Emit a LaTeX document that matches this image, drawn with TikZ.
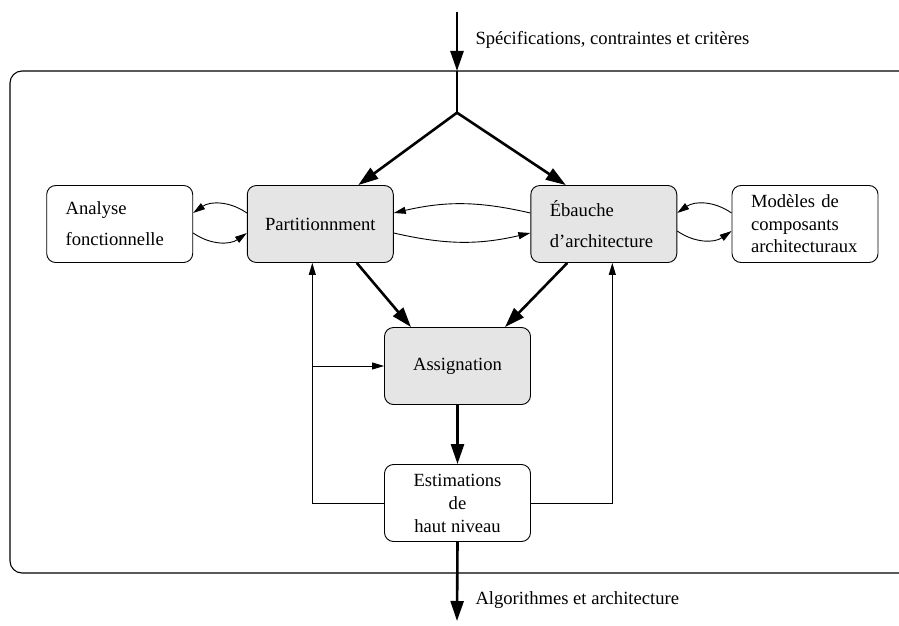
\documentclass[tikz,border=0pt]{standalone}
\usepackage{fontspec}
\setmainfont{Liberation Serif}
\usetikzlibrary{arrows.meta,calc}
\begin{document}
\begin{tikzpicture}[x=1pt,y=-1pt,
  txt/.style={font=\fontsize{18.6}{21}\selectfont},
  box/.style={draw, line width=0.9pt, rounded corners=9pt, minimum width=146pt,
    minimum height=77pt, inner sep=0pt, txt},
  gbox/.style={box, fill=black!10},
  lbox/.style={box, align=left, text width=108pt, inner xsep=19pt},
  big/.style={line width=2.6pt, -{Triangle[length=20pt,width=13pt]}},
  bigline/.style={line width=2.6pt},
  small/.style={line width=0.9pt, -{Triangle[length=12pt,width=7pt]}},
  lbl/.style={anchor=west, txt}]
\useasboundingbox (0,0) rectangle (899,626);

% enclosing frame, open on the right
\draw[line width=1.1pt, rounded corners=12pt] (899,71) -- (10,71) -- (10,573) -- (899,573);

% boxes
\node[lbox] (ana) at (119.7,224) {Analyse\\[10pt]fonctionnelle};
\node[gbox] (part) at (320.3,224) {Partitionnment};
\node[gbox, lbox] (eb) at (603.8,224) {Ébauche\\[10pt]d'architecture};
\node[lbox, font=\fontsize{18.6}{22.5}\selectfont] (mod) at (805,224) {Modèles de\\composants\\architecturaux};
\node[gbox] (ass) at (457.5,366) {Assignation};
\node[box, align=center, font=\fontsize{18.6}{23}\selectfont] (est) at (457.5,503) {Estimations\\de\hspace{0.6em}\\haut niveau};

% input and output
\coordinate (in) at (457,12);
\coordinate (entry) at (457,71);
\coordinate (split) at (457,112.7);
\coordinate (out) at (457,621);
\draw[big] (in) -- (entry);
\draw[line width=2.6pt] (entry) -- (split);
\node[lbl] (spec) at (472,40) {Spécifications, contraintes et critères};
\node[lbl] (algo) at (472,600) {Algorithmes et architecture};
\draw[big] (est.south) -- (out);

% main flow
\draw[big] (split) -- ($(part.north)+(38,0)$);
\draw[big] (split) -- ($(eb.north)+(-38,0)$);
\draw[big] ($(part.south)+(36.5,0)$) -- ($(ass.north)+(-46.5,0)$);
\draw[big] ($(eb.south)+(-36.5,0)$) -- ($(ass.north)+(47.5,0)$);
\draw[big] (ass.south) -- (est.north);

% feedback from the estimations
\coordinate (fl) at ($(part.south)+(-8,0)$);
\coordinate (fr) at ($(eb.south)+(8.5,0)$);
\coordinate (fb) at (fl |- ass.west);
\draw[small] (est.west) -| (fl);
\draw[small] (est.east) -| (fr);
\draw[small] (fb) -- (ass.west);

% exchanges between neighbouring boxes
\draw[small] ($(part.west)+(0,-11)$) to[bend right=35] ($(ana.east)+(0,-11)$);
\draw[small] ($(ana.east)+(0,9)$) to[bend right=35] ($(part.west)+(0,9)$);
\draw[small] ($(eb.west)+(0,-11)$) to[bend right=13] ($(part.east)+(0,-11)$);
\draw[small] ($(part.east)+(0,9)$) to[bend right=13] ($(eb.west)+(0,9)$);
\draw[small] ($(mod.west)+(0,-11)$) to[bend right=35] ($(eb.east)+(0,-11)$);
\draw[small] ($(eb.east)+(0,7)$) to[bend right=35] ($(mod.west)+(0,7)$);
\end{tikzpicture}
\end{document}
